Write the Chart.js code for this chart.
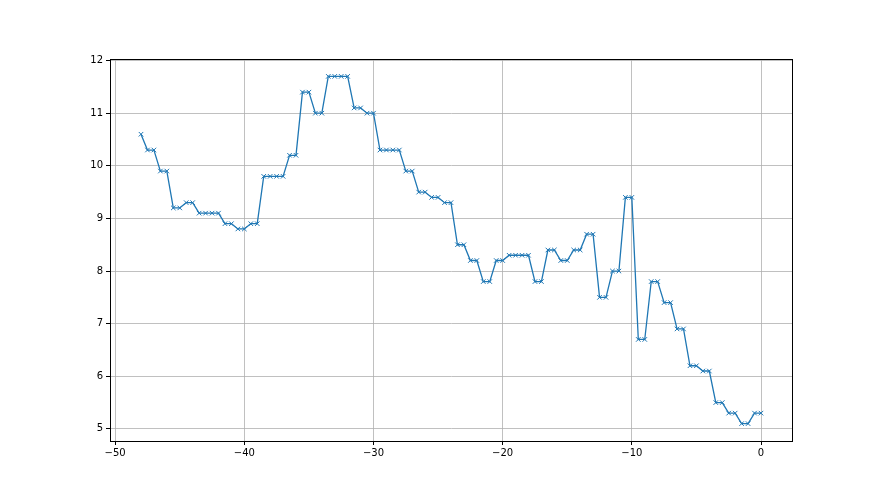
<!DOCTYPE html>
<html><head><meta charset="utf-8">
<script src="https://cdn.jsdelivr.net/npm/chart.js@4/dist/chart.umd.min.js"></script>
<style>html,body{margin:0;padding:0;background:#fff;}#wrap{width:880px;height:495px;}</style>
</head><body><div id="wrap"><canvas id="c" width="880" height="495"></canvas></div>
<script>
const xValues = [-48,-47.5,-47,-46.5,-46,-45.5,-45,-44.5,-44,-43.5,-43,-42.5,-42,-41.5,-41,-40.5,-40,-39.5,-39,-38.5,-38,-37.5,-37,-36.5,-36,-35.5,-35,-34.5,-34,-33.5,-33,-32.5,-32,-31.5,-31,-30.5,-30,-29.5,-29,-28.5,-28,-27.5,-27,-26.5,-26,-25.5,-25,-24.5,-24,-23.5,-23,-22.5,-22,-21.5,-21,-20.5,-20,-19.5,-19,-18.5,-18,-17.5,-17,-16.5,-16,-15.5,-15,-14.5,-14,-13.5,-13,-12.5,-12,-11.5,-11,-10.5,-10,-9.5,-9,-8.5,-8,-7.5,-7,-6.5,-6,-5.5,-5,-4.5,-4,-3.5,-3,-2.5,-2,-1.5,-1,-0.5,0];
const yValues = [10.6,10.3,10.3,9.9,9.9,9.2,9.2,9.3,9.3,9.1,9.1,9.1,9.1,8.9,8.9,8.8,8.8,8.9,8.9,9.8,9.8,9.8,9.8,10.2,10.2,11.4,11.4,11.0,11.0,11.7,11.7,11.7,11.7,11.1,11.1,11.0,11.0,10.3,10.3,10.3,10.3,9.9,9.9,9.5,9.5,9.4,9.4,9.3,9.3,8.5,8.5,8.2,8.2,7.8,7.8,8.2,8.2,8.3,8.3,8.3,8.3,7.8,7.8,8.4,8.4,8.2,8.2,8.4,8.4,8.7,8.7,7.5,7.5,8.0,8.0,9.4,9.4,6.7,6.7,7.8,7.8,7.4,7.4,6.9,6.9,6.2,6.2,6.1,6.1,5.5,5.5,5.3,5.3,5.1,5.1,5.3,5.3];
const xTicks = [-50,-40,-30,-20,-10,0];
const yTicks = [5,6,7,8,9,10,11,12];

const points = xValues.map((x,i)=>({x:x,y:yValues[i]}));
const fmt = v => (v<0 ? '\u2212'+Math.abs(v) : String(v));

const frame = {
  id:'frame',
  afterDraw(chart){
    const a = chart.chartArea, ctx = chart.ctx;
    ctx.save();
    ctx.strokeStyle = '#000';
    ctx.lineWidth = 1;
    ctx.strokeRect(Math.round(a.left)+0.5, Math.round(a.top)+0.5, Math.round(a.right-a.left), Math.round(a.bottom-a.top));
    ctx.restore();
  }
};

new Chart(document.getElementById('c'), {
  type:'line',
  data:{datasets:[{
    data:points,
    borderColor:'#1f77b4',
    backgroundColor:'#1f77b4',
    borderWidth:1.3,
    pointStyle:'crossRot',
    pointRadius:3.2,
    pointBorderWidth:1,
    pointBorderColor:'#1f77b4',
    tension:0,
    fill:false
  }]},
  options:{
    responsive:false,
    animation:false,
    events:[],
    layout:{padding:{top:59,right:88,left:0,bottom:0}},
    plugins:{legend:{display:false},tooltip:{enabled:false}},
    scales:{
      x:{
        type:'linear',
        min:-50.4, max:2.4,
        afterBuildTicks(s){ s.ticks = xTicks.map(v=>({value:v})); },
        afterFit(s){ s.height = 54; },
        grid:{color:'#b0b0b0', lineWidth:0.8, drawTicks:true, tickLength:4, tickColor:'#000', tickWidth:1},
        border:{display:true,color:'#000',width:1},
        ticks:{color:'#000', font:{family:'DejaVu Sans', size:10}, padding:2, maxRotation:0, callback:v=>fmt(v)}
      },
      y:{
        type:'linear',
        min:4.77, max:12.03,
        afterBuildTicks(s){ s.ticks = yTicks.map(v=>({value:v})); },
        afterFit(s){ s.width = 110; },
        grid:{color:'#b0b0b0', lineWidth:0.8, drawTicks:true, tickLength:4, tickColor:'#000', tickWidth:1},
        border:{display:true,color:'#000',width:1},
        ticks:{color:'#000', font:{family:'DejaVu Sans', size:10}, padding:3, callback:v=>fmt(v)}
      }
    }
  },
  plugins:[frame]
});
</script></body></html>
